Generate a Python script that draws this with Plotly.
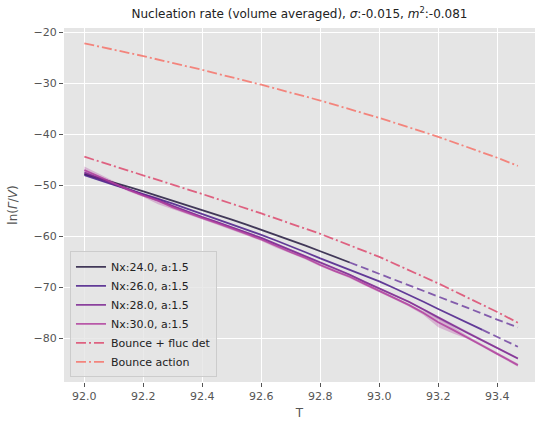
import plotly.graph_objects as go

# ---- data ----
T_main = [92.0, 92.05, 92.1, 92.15, 92.2, 92.25, 92.3, 92.35, 92.4, 92.45,
          92.5, 92.55, 92.6, 92.65, 92.7, 92.75, 92.8, 92.85, 92.9, 92.95,
          93.0, 93.05, 93.1, 93.15, 93.2, 93.25, 93.3, 93.35, 93.4, 93.47]

nx24 = [-47.8, -48.6, -49.5, -50.3, -51.2, -52.1, -53.0, -53.9, -54.8, -55.7,
        -56.7, -57.7, -58.7, -59.7, -60.8, -61.8, -62.9, -64.0, -65.1]
T_nx24_ext = [92.9, 93.0, 93.1, 93.2, 93.3, 93.4, 93.47]
nx24_ext = [-65.1, -67.3, -69.5, -71.8, -74.0, -76.3, -77.8]

nx26 = [-48.0, -49.0, -49.9, -50.8, -51.7, -52.6, -53.6, -54.6, -55.6, -56.6,
        -57.6, -58.6, -59.7, -60.8, -61.9, -63.1, -64.3, -65.4, -66.5, -67.6,
        -68.8, -70.1, -71.4, -72.8, -74.2, -75.6, -76.9, -78.3]
T_nx26_ext = [93.35, 93.4, 93.47]
nx26_ext = [-78.3, -79.7, -81.6]

nx28 = [-47.5, -48.6, -49.7, -50.8, -51.9, -52.9, -54.1, -55.2, -56.2, -57.2,
        -58.2, -59.2, -60.3, -61.5, -62.7, -63.9, -65.1, -66.2, -67.5, -68.9,
        -70.2, -71.5, -72.8, -74.3, -75.9, -77.4, -78.9, -80.4, -81.9, -83.9]
err28 = [0.5, 0.4, 0.3, 0.2, 0.2, 0.3, 0.2, 0.2, 0.2, 0.2,
         0.2, 0.2, 0.2, 0.2, 0.2, 0.2, 0.2, 0.2, 0.2, 0.2,
         0.2, 0.2, 0.2, 0.2, 0.3, 0.3, 0.2, 0.2, 0.2, 0.2]

nx30 = [-47.0, -48.3, -49.5, -50.9, -52.0, -53.0, -54.3, -55.4, -56.4, -57.4,
        -58.4, -59.5, -60.6, -61.9, -63.1, -64.2, -65.6, -66.8, -67.9, -69.3,
        -70.7, -72.0, -73.4, -75.0, -76.8, -78.3, -79.8, -81.4, -83.0, -85.2]
err30 = [0.7, 0.6, 0.4, 0.3, 0.3, 0.7, 0.3, 0.3, 0.3, 0.3,
         0.3, 0.3, 0.3, 0.3, 0.3, 0.3, 0.3, 0.3, 0.3, 0.3,
         0.3, 0.3, 0.3, 0.4, 1.0, 0.7, 0.3, 0.3, 0.3, 0.3]

T_bounce = [92.0, 92.2, 92.4, 92.6, 92.8, 93.0, 93.2, 93.4, 93.47]
bounce_fluc = [-44.4, -48.0, -51.7, -55.5, -59.5, -64.0, -69.2, -74.8, -76.9]
bounce_action = [-22.2, -24.7, -27.4, -30.3, -33.4, -36.8, -40.5, -44.6, -46.2]

x_ticks = [92.0, 92.2, 92.4, 92.6, 92.8, 93.0, 93.2, 93.4]
y_ticks = [-80, -70, -60, -50, -40, -30, -20]

colors = ['#241a40', '#4a1c8a', '#7b2590', '#b0409e', '#dd4a6e', '#f6736a']
ext_color = '#6a3a9e'


def rgba(hexc, a):
    h = hexc.lstrip('#')
    r, g, b = int(h[0:2], 16), int(h[2:4], 16), int(h[4:6], 16)
    return f'rgba({r},{g},{b},{a})'


fig = go.Figure()

# ribbons
for ys, es, c in [(nx28, err28, colors[2]), (nx30, err30, colors[3])]:
    up = [y + e for y, e in zip(ys, es)]
    lo = [y - e for y, e in zip(ys, es)]
    fig.add_trace(go.Scatter(x=T_main + T_main[::-1], y=up + lo[::-1],
                             fill='toself', fillcolor=rgba(c, 0.3),
                             line=dict(width=0), mode='lines',
                             showlegend=False, hoverinfo='skip'))

LW = 1.8
fig.add_trace(go.Scatter(x=T_main[:len(nx24)], y=nx24, mode='lines',
                         name='Nx:24.0, a:1.5',
                         line=dict(color=rgba(colors[0], 0.85), width=LW)))
fig.add_trace(go.Scatter(x=T_main[:len(nx26)], y=nx26, mode='lines',
                         name='Nx:26.0, a:1.5',
                         line=dict(color=rgba(colors[1], 0.85), width=LW)))
fig.add_trace(go.Scatter(x=T_main, y=nx28, mode='lines',
                         name='Nx:28.0, a:1.5',
                         line=dict(color=rgba(colors[2], 0.85), width=LW)))
fig.add_trace(go.Scatter(x=T_main, y=nx30, mode='lines',
                         name='Nx:30.0, a:1.5',
                         line=dict(color=rgba(colors[3], 0.85), width=LW)))
fig.add_trace(go.Scatter(x=T_nx24_ext, y=nx24_ext, mode='lines', showlegend=False,
                         line=dict(color=rgba(ext_color, 0.8), width=LW, dash='8px,4px')))
fig.add_trace(go.Scatter(x=T_nx26_ext, y=nx26_ext, mode='lines', showlegend=False,
                         line=dict(color=rgba(ext_color, 0.8), width=LW, dash='8px,4px')))
fig.add_trace(go.Scatter(x=T_bounce, y=bounce_fluc, mode='lines',
                         name='Bounce + fluc det',
                         line=dict(color=rgba(colors[4], 0.85), width=LW,
                                   dash='10px,3px,2px,3px')))
fig.add_trace(go.Scatter(x=T_bounce, y=bounce_action, mode='lines',
                         name='Bounce action',
                         line=dict(color=rgba(colors[5], 0.85), width=LW,
                                   dash='10px,3px,2px,3px')))

fig.update_layout(
    template='none',
    width=535, height=421,
    margin=dict(l=64, r=0, t=28, b=39, pad=0),
    plot_bgcolor='#e5e5e5', paper_bgcolor='white',
    font=dict(family='DejaVu Sans', size=11, color='#555555'),
    title=dict(text='Nucleation rate (volume averaged), <i>σ</i>:-0.015, <i>m</i><sup>2</sup>:-0.081',
               x=0.5, xref='paper', xanchor='center',
               y=1 - 14 / 421, yref='container', yanchor='middle',
               font=dict(size=12, color='#222222')),
    showlegend=True,
    legend=dict(x=0.0127, y=0.013, xanchor='left', yanchor='bottom',
                bgcolor='rgba(229,229,229,0.8)', bordercolor='#cccccc', borderwidth=1,
                font=dict(size=11, color='#222222'), tracegroupgap=0,
                itemwidth=30),
)
fig.update_xaxes(range=[91.931, 93.528], tickvals=x_ticks,
                 ticktext=[f'{v:.1f}' for v in x_ticks],
                 showgrid=True, gridcolor='white', gridwidth=1,
                 ticks='outside', ticklen=4, tickcolor='#555555', tickwidth=1,
                 zeroline=False, showline=False, automargin=False,
                 title=dict(text='T', standoff=6, font=dict(size=12, color='#555555')))
fig.update_yaxes(range=[-88.5, -19.2], tickvals=y_ticks,
                 showgrid=True, gridcolor='white', gridwidth=1,
                 ticks='outside', ticklen=4, tickcolor='#555555', tickwidth=1,
                 zeroline=False, showline=False, automargin=False,
                 title=dict(text='ln(<i>Γ</i>/<i>V</i>)', standoff=13,
                            font=dict(size=12, color='#555555')))

fig.write_html('out.html', config={'displayModeBar': False},
               post_script="document.body.style.margin='0';document.body.style.padding='0';")
